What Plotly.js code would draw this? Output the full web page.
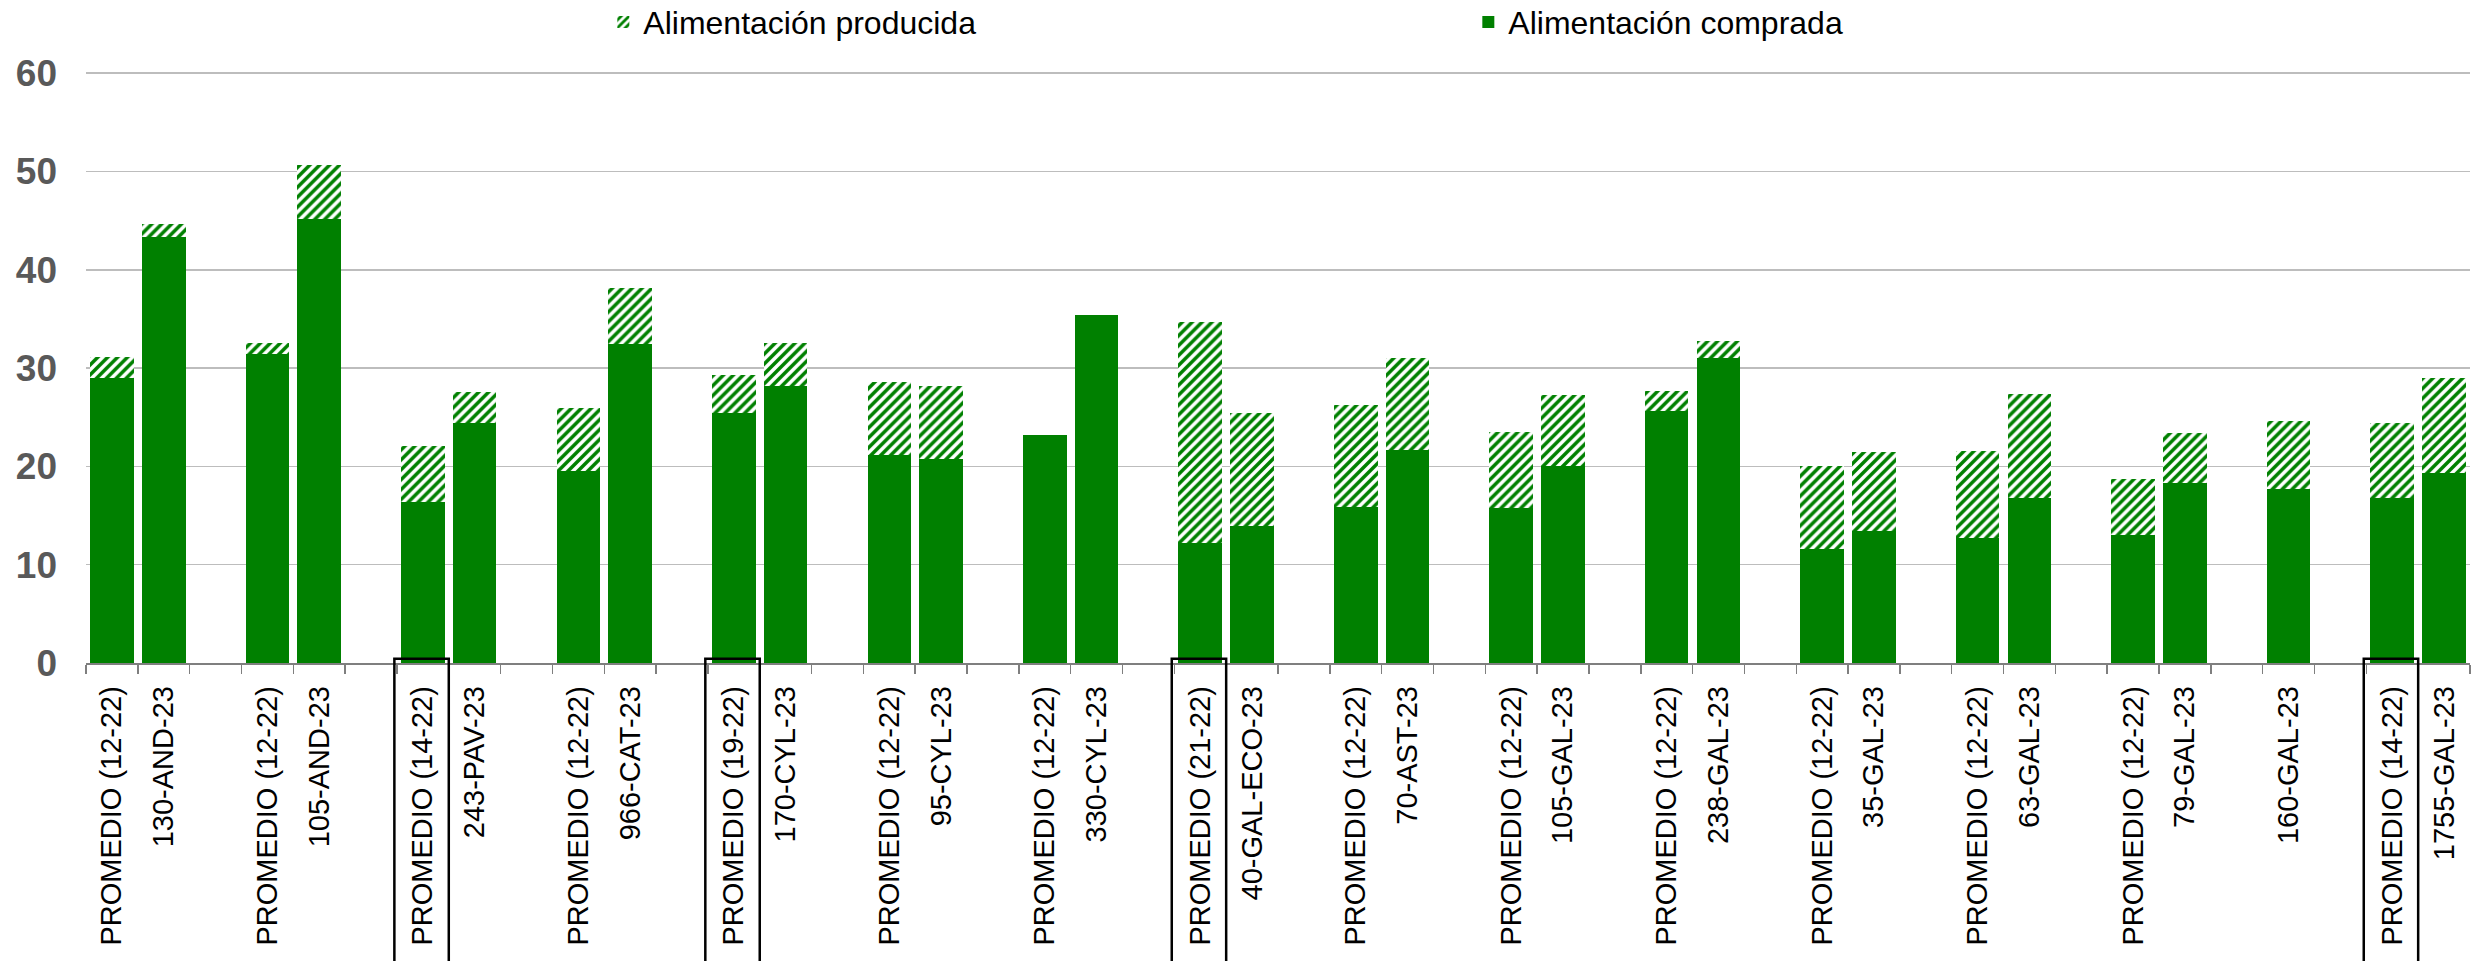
<!DOCTYPE html>
<html>
<head>
<meta charset="utf-8">
<script src="https://cdn.plot.ly/plotly-3.0.1.min.js"></script>
<style>html,body{margin:0;padding:0;background:#fff;}#chart{width:2476px;height:961px;}</style>
</head>
<body>
<div id="chart"></div>
<script>
const labels = ["PROMEDIO (12-22)","130-AND-23","PROMEDIO (12-22)","105-AND-23","PROMEDIO (14-22)","243-PAV-23","PROMEDIO (12-22)","966-CAT-23","PROMEDIO (19-22)","170-CYL-23","PROMEDIO (12-22)","95-CYL-23","PROMEDIO (12-22)","330-CYL-23","PROMEDIO (21-22)","40-GAL-ECO-23","PROMEDIO (12-22)","70-AST-23","PROMEDIO (12-22)","105-GAL-23","PROMEDIO (12-22)","238-GAL-23","PROMEDIO (12-22)","35-GAL-23","PROMEDIO (12-22)","63-GAL-23","PROMEDIO (12-22)","79-GAL-23","160-GAL-23","PROMEDIO (14-22)","1755-GAL-23"];
const comprada = [29.0, 43.35, 31.45, 45.2, 16.4, 24.4, 19.55, 32.45, 25.4, 28.2, 21.15, 20.8, 23.2, 35.45, 12.2, 13.95, 15.9, 21.7, 15.75, 20.0, 25.65, 31.0, 11.6, 13.45, 12.75, 16.75, 13.05, 18.3, 17.7, 16.8, 19.3];
const producida = [2.1, 1.35, 1.15, 5.45, 5.7, 3.2, 6.35, 5.65, 3.9, 4.4, 7.45, 7.35, 0, 0, 22.45, 11.45, 10.3, 9.35, 7.75, 7.3, 2.05, 1.8, 8.4, 8.0, 8.8, 10.6, 5.7, 5.1, 6.9, 7.6, 9.65];
const boxedLabels = ["PROMEDIO (14-22)","PROMEDIO (19-22)","PROMEDIO (21-22)"];
const seriesNames = ["Alimentación comprada", "Alimentación producida"];
const yTicks = [0, 10, 20, 30, 40, 50, 60];

// slot positions: a PROMEDIO bar opens a group, a farm bar closes it followed by an empty slot
const xs = [];
let pos = 0;
labels.forEach(l => {
  xs.push(pos);
  pos += l.startsWith("PROMEDIO") ? 1 : 2;
});
const nSlots = xs[xs.length - 1] + 1;
const boundaries = [];
for (let i = 0; i <= nSlots; i++) boundaries.push(i - 0.5);

const GREEN = '#008000';
const traces = [
  {type:'bar', name:seriesNames[0], x:xs, y:comprada,
   marker:{color:GREEN, line:{width:0}}, hoverinfo:'skip'},
  {type:'bar', name:seriesNames[1], x:xs, y:producida,
   marker:{color:GREEN, line:{width:0},
     pattern:{shape:'/', fgcolor:GREEN, bgcolor:'#ffffff', fgopacity:1, size:7, solidity:0.5, fillmode:'replace'}},
   hoverinfo:'skip'}
];

const shapes = [];
xs.forEach((x, i) => {
  if (boxedLabels.includes(labels[i])) {
    shapes.push({type:'rect', xref:'x', yref:'paper', x0:x-0.55, x1:x+0.5, y0:0.007, y1:-0.55,
      line:{color:'#000000', width:2.5}, fillcolor:'rgba(0,0,0,0)'});
  }
});

const layout = {
  width:2476, height:961,
  margin:{l:86, r:6, t:72, b:298},
  paper_bgcolor:'#ffffff', plot_bgcolor:'#ffffff',
  barmode:'stack', bargap:0.16,
  showlegend:true,
  legend:{orientation:'h', traceorder:'reversed', x:0.217, xanchor:'left', xref:'paper',
    y:0.977, yref:'container', yanchor:'middle',
    font:{family:'Liberation Sans, Arial, sans-serif', size:32, color:'#000000'},
    entrywidth:820, entrywidthmode:'pixels', bgcolor:'rgba(0,0,0,0)'},
  xaxis:{
    type:'linear', range:[-0.5, nSlots - 0.5], fixedrange:true,
    tickmode:'array', tickvals:xs, ticktext:labels, tickangle:-90, ticks:'',
    tickfont:{family:'Liberation Sans, Arial, sans-serif', size:29, color:'#000000'},
    ticklabelstandoff:10,
    showgrid:false, zeroline:false, showline:true, linecolor:'#7f7f7f', linewidth:1.5,
    minor:{tickmode:'array', tickvals:boundaries, ticks:'outside', ticklen:9, tickwidth:1.5, tickcolor:'#7f7f7f', showgrid:false}
  },
  yaxis:{
    range:[0, 60.12], fixedrange:true, tickmode:'array', tickvals:yTicks, ticktext:yTicks.map(String),
    tickfont:{family:'Liberation Sans, Arial, sans-serif', size:37, color:'#595959', weight:'bold'},
    ticklabelstandoff:28,
    showgrid:true, gridcolor:'#bdbdbd', gridwidth:1.5, zeroline:false, showline:false, ticks:''
  },
  shapes:shapes
};

Plotly.newPlot('chart', traces, layout, {staticPlot:true, displayModeBar:false});
</script>
</body>
</html>
